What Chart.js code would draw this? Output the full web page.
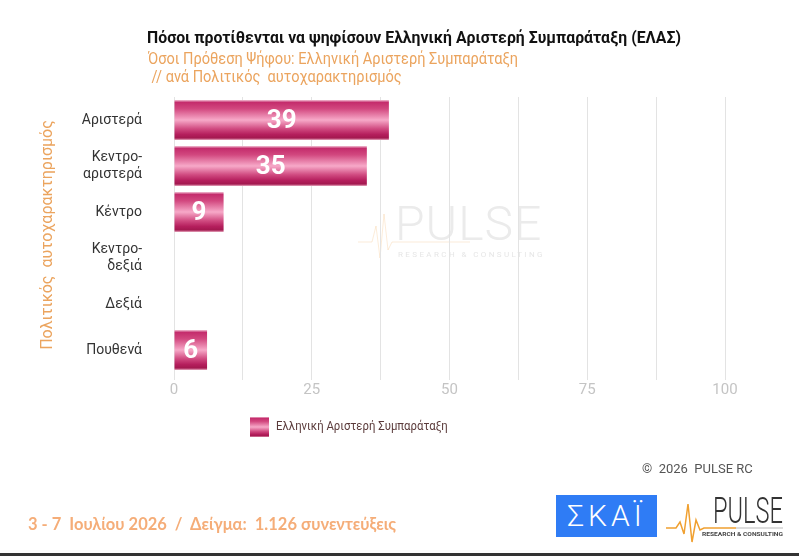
<!DOCTYPE html>
<html lang="el">
<head>
<meta charset="utf-8">
<title>ΕΛΑΣ - Πολιτικός αυτοχαρακτηρισμός</title>
<script src="https://cdn.jsdelivr.net/npm/chart.js@4.4.1/dist/chart.umd.min.js"></script>
<style>
  html, body { margin: 0; padding: 0; background: #fff; }
  #lienzo { position: relative; width: 799px; height: 556px; overflow: hidden; font-family: Roboto, sans-serif; }
  #grafico { position: absolute; left: 0; top: 0; }
  .titulo { position: absolute; left: 414px; top: 27px; transform: translateX(-50%) scaleX(0.93); white-space: nowrap;
    font-weight: bold; font-size: 17px; color: #111; }
  .subtitulo { position: absolute; left: 148px; white-space: nowrap; font-size: 16px; color: #eba45e;
    transform: scaleX(0.91); transform-origin: left center; }
  .copy { position: absolute; left: 642px; top: 461px; font-size: 13px; color: #555; white-space: nowrap; }
  .fecha { position: absolute; left: 28px; top: 514px; font-family: Lato, sans-serif; font-weight: bold; font-size: 16.5px;
    color: #f5ad78; white-space: nowrap; }
  .skai { position: absolute; left: 556px; top: 495px; width: 101px; height: 42px; background: #2f7cf5; color: #fff;
    font-size: 30px; font-weight: 300; letter-spacing: 4px; text-align: center; line-height: 42px; }
  .pulse { position: absolute; left: 664px; top: 492px; }
  .linea-base { position: absolute; left: 0; bottom: 0; width: 799px; height: 3px; background: #333; }
</style>
</head>
<body>
<div id="lienzo">
  <canvas id="grafico" width="799" height="556"></canvas>
  <div class="titulo">Πόσοι προτίθενται να ψηφίσουν Ελληνική Αριστερή Συμπαράταξη (ΕΛΑΣ)</div>
  <div class="subtitulo" style="top:49px">Όσοι Πρόθεση Ψήφου: Ελληνική Αριστερή Συμπαράταξη</div>
  <div class="subtitulo" style="top:67px">&nbsp;// ανά Πολιτικός&nbsp; αυτοχαρακτηρισμός</div>
  <div class="copy">©&nbsp; 2026&nbsp; PULSE RC</div>
  <div class="fecha">3 - 7&nbsp; Ιουλίου 2026&nbsp; /&nbsp; Δείγμα:&nbsp; 1.126 συνεντεύξεις</div>
  <div class="skai">ΣΚΑΪ</div>
  <svg class="pulse" width="124" height="52" viewBox="0 0 124 52">
    <polyline points="2,36 12,36 16,30 20,42 24,12 28,50 32,28 36,38 40,36 72,36"
      fill="none" stroke="#f0a030" stroke-width="1.5"/>
    <text x="49" y="31" font-family="Roboto" font-weight="300" font-size="36" fill="#333"
      textLength="70" lengthAdjust="spacingAndGlyphs">PULSE</text>
    <line x1="72" y1="36" x2="119" y2="36" stroke="#aaa" stroke-width="0.8"/>
    <text x="38" y="44" font-family="Roboto" font-weight="bold" font-size="6" fill="#444"
      textLength="81" lengthAdjust="spacingAndGlyphs">RESEARCH &amp; CONSULTING</text>
  </svg>
  <div class="linea-base"></div>
</div>
<script>
const categorias = [['Αριστερά'], ['Κεντρο-', 'αριστερά'], ['Κέντρο'], ['Κεντρο-', 'δεξιά'], ['Δεξιά'], ['Πουθενά']];
const valores = [39, 35, 9, null, null, 6];
const nombreSerie = 'Ελληνική Αριστερή Συμπαράταξη';
const ticksEjeX = [0, 25, 50, 75, 100];
const tituloEjeY = 'Πολιτικός  αυτοχαρακτηρισμός';

const GROSOR_BARRA = 0.87;

function gradienteBarra(ctx, arriba, abajo) {
  const g = ctx.createLinearGradient(0, arriba, 0, abajo);
  g.addColorStop(0, '#f2c4d6');
  g.addColorStop(0.06, '#c42c6c');
  g.addColorStop(0.22, '#d2487f');
  g.addColorStop(0.5, '#f7a9c8');
  g.addColorStop(0.72, '#d04a80');
  g.addColorStop(0.86, '#b51f5d');
  g.addColorStop(0.95, '#a3184f');
  g.addColorStop(1, '#e8a9c0');
  return g;
}

function colorBarra(c) {
  const chart = c.chart;
  const y = chart.scales.y;
  if (!y || !chart.chartArea) return '#c83070';
  const centro = y.getPixelForValue(c.dataIndex);
  const mitad = (y.height / categorias.length) * GROSOR_BARRA / 2;
  return gradienteBarra(chart.ctx, centro - mitad, centro + mitad);
}

const marcaAgua = {
  id: 'marcaAgua',
  beforeDraw(chart) {
    const { ctx } = chart;
    ctx.save();
    ctx.strokeStyle = 'rgba(240,170,80,0.22)';
    ctx.lineWidth = 1;
    ctx.beginPath();
    ctx.moveTo(358, 242); ctx.lineTo(372, 242); ctx.lineTo(376, 226); ctx.lineTo(380, 258);
    ctx.lineTo(384, 214); ctx.lineTo(388, 250); ctx.lineTo(392, 242); ctx.lineTo(470, 242);
    ctx.stroke();
    ctx.fillStyle = '#ebebeb';
    ctx.font = '300 48px Roboto';
    ctx.letterSpacing = '1px';
    ctx.textBaseline = 'alphabetic';
    ctx.fillText('PULSE', 395, 240);
    ctx.font = '8px Roboto';
    ctx.letterSpacing = '2.4px';
    ctx.fillStyle = '#e6e6e6';
    ctx.fillText('RESEARCH & CONSULTING', 398, 257);
    ctx.restore();
  }
};

const etiquetasValor = {
  id: 'etiquetasValor',
  afterDatasetsDraw(chart) {
    const { ctx } = chart;
    const meta = chart.getDatasetMeta(0);
    ctx.save();
    ctx.font = 'bold 26px Roboto';
    ctx.fillStyle = '#fff';
    ctx.textAlign = 'center';
    ctx.textBaseline = 'middle';
    meta.data.forEach((barra, i) => {
      const v = valores[i];
      if (v == null) return;
      ctx.fillText(String(v), (barra.x + barra.base) / 2, barra.y + 1);
    });
    ctx.restore();
  }
};

const leyenda = {
  id: 'leyenda',
  afterDraw(chart) {
    const { ctx, chartArea } = chart;
    const x = chartArea.left + 76;
    const y = chartArea.bottom + 54;
    ctx.save();
    ctx.fillStyle = gradienteBarra(ctx, y - 10, y + 10);
    ctx.fillRect(x, y - 10, 19, 20);
    ctx.translate(x + 26, y);
    ctx.scale(0.91, 1);
    ctx.font = '12.5px Roboto';
    ctx.fillStyle = '#5b3b3b';
    ctx.textBaseline = 'middle';
    ctx.fillText(chart.data.datasets[0].label, 0, 0);
    ctx.restore();
  }
};

new Chart(document.getElementById('grafico'), {
  type: 'bar',
  data: {
    labels: categorias,
    datasets: [{
      label: nombreSerie,
      data: valores,
      backgroundColor: colorBarra,
      barPercentage: GROSOR_BARRA,
      categoryPercentage: 1
    }]
  },
  options: {
    indexAxis: 'y',
    responsive: false,
    animation: false,
    layout: { padding: { top: 97, left: 34, right: 74, bottom: 153 } },
    plugins: {
      legend: { display: false },
      title: { display: false },
      tooltip: { enabled: false }
    },
    scales: {
      x: {
        min: 0,
        max: 100,
        afterFit: (s) => { s.height = 30; },
        ticks: {
          stepSize: 12.5,
          autoSkip: false,
          maxRotation: 0,
          padding: 1,
          color: '#c4c4c4',
          font: { family: 'Roboto', size: 15 },
          callback: (v) => (ticksEjeX.includes(v) ? v : '')
        },
        grid: { color: '#e3e3e3', drawTicks: true, tickLength: 7 },
        border: { display: false }
      },
      y: {
        afterFit: (s) => { s.width = 140; },
        ticks: {
          color: '#333',
          padding: 32,
          font: { family: 'Roboto', size: 14, lineHeight: 1.2 }
        },
        grid: { display: false, drawTicks: false },
        border: { display: false },
        title: {
          display: true,
          text: tituloEjeY,
          color: '#eba45e',
          font: { family: 'Roboto', size: 16 },
          padding: { top: 4, bottom: 4 }
        }
      }
    }
  },
  plugins: [marcaAgua, etiquetasValor, leyenda]
});
</script>
</body>
</html>
